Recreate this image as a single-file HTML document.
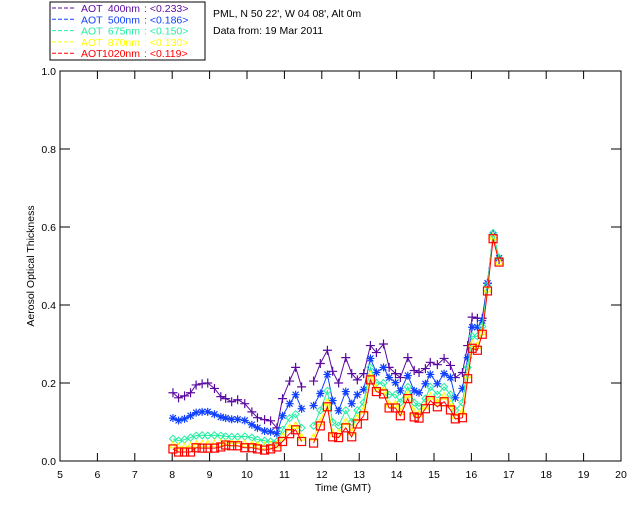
<!DOCTYPE html>
<html><head><meta charset="utf-8"><style>
body{margin:0;background:#fff;width:640px;height:512px;overflow:hidden}
svg text{font-family:"Liberation Sans","DejaVu Sans",sans-serif;font-size:10.5px}
</style></head><body>
<svg id="chart" width="640" height="512" xmlns="http://www.w3.org/2000/svg">
<rect x="0" y="0" width="640" height="512" fill="#fff"/>
<g id="plot"></g>
<rect x="50" y="2" width="155" height="58" fill="none" stroke="#000"/>
<g id="legend"></g>
<text x="213" y="17">PML, N 50 22', W 04 08', Alt 0m</text>
<text x="213" y="34">Data from: 19 Mar 2011</text>
<text x="343" y="491" text-anchor="middle">Time (GMT)</text>
<text transform="translate(34,266) rotate(-90)" text-anchor="middle" font-size="10">Aerosol Optical Thickness</text>
</svg>
<script>
const times=[8.02,8.17,8.33,8.49,8.64,8.8,8.95,9.13,9.3,9.43,9.59,9.75,9.94,10.13,10.28,10.47,10.63,10.8,10.95,11.14,11.3,11.46,
11.78,11.96,12.15,12.29,12.45,12.64,12.8,12.95,13.12,13.3,13.46,13.65,13.8,13.97,14.1,14.3,14.47,14.6,14.77,14.9,15.09,15.27,15.44,15.57,15.76,15.9,16.02,16.16,16.29,16.43,16.58,16.74];
const aot400=[0.175,0.162,0.167,0.175,0.195,0.198,0.2,0.186,0.165,0.16,0.152,0.157,0.147,0.126,0.111,0.106,0.103,0.085,0.16,0.205,0.24,0.19,
0.205,0.25,0.284,0.23,0.2,0.265,0.224,0.208,0.224,0.296,0.278,0.3,0.24,0.224,0.214,0.265,0.232,0.227,0.237,0.253,0.247,0.263,0.245,0.214,0.227,0.296,0.369,0.366,0.366,0.456,0.58,0.515];
const aot500=[0.11,0.104,0.108,0.116,0.124,0.126,0.126,0.12,0.113,0.11,0.107,0.107,0.104,0.093,0.085,0.077,0.075,0.07,0.116,0.147,0.17,0.134,
0.142,0.173,0.222,0.155,0.129,0.178,0.147,0.17,0.183,0.263,0.227,0.24,0.214,0.201,0.18,0.219,0.18,0.175,0.198,0.222,0.198,0.224,0.214,0.162,0.186,0.265,0.343,0.343,0.36,0.456,0.58,0.52];
const aot675=[0.057,0.052,0.055,0.06,0.065,0.066,0.065,0.066,0.065,0.063,0.062,0.062,0.063,0.06,0.055,0.052,0.05,0.05,0.08,0.11,0.12,0.085,
0.09,0.13,0.18,0.1,0.09,0.13,0.1,0.13,0.15,0.24,0.2,0.2,0.17,0.17,0.15,0.19,0.15,0.14,0.16,0.19,0.17,0.19,0.17,0.13,0.15,0.24,0.32,0.32,0.345,0.45,0.585,0.52];
const aot870=[0.04,0.035,0.035,0.038,0.042,0.043,0.043,0.044,0.045,0.046,0.045,0.045,0.043,0.042,0.04,0.038,0.04,0.04,0.06,0.085,0.09,0.06,
0.06,0.1,0.15,0.07,0.07,0.1,0.075,0.11,0.13,0.22,0.185,0.18,0.145,0.145,0.125,0.17,0.125,0.12,0.14,0.165,0.15,0.165,0.145,0.115,0.125,0.22,0.3,0.295,0.33,0.44,0.575,0.51];
const aot1020=[0.031,0.023,0.023,0.023,0.034,0.033,0.033,0.033,0.036,0.041,0.039,0.039,0.034,0.034,0.031,0.028,0.031,0.036,0.05,0.07,0.08,0.05,
0.046,0.09,0.139,0.062,0.06,0.085,0.062,0.095,0.116,0.208,0.178,0.172,0.136,0.136,0.116,0.16,0.113,0.11,0.134,0.155,0.139,0.152,0.131,0.108,0.111,0.211,0.289,0.284,0.325,0.436,0.57,0.51];
const xTicks=[5,6,7,8,9,10,11,12,13,14,15,16,17,18,19,20];
const yTicks=["0.0","0.2","0.4","0.6","0.8","1.0"];
const legendNames=["AOT  400nm","AOT  500nm","AOT  675nm","AOT  870nm","AOT 1020nm"];
const legendMeans=["<0.233>","<0.186>","<0.150>","<0.130>","<0.119>"];

const NS="http://www.w3.org/2000/svg";
const X0=60,X1=621,Y0=461,Y1=71;
const xs=t=>X0+(t-5)/15*(X1-X0);
const ys=v=>Y0-v*(Y0-Y1);
const plot=document.getElementById('plot');
function mk(tag,attrs,parent){const e=document.createElementNS(NS,tag);for(const k in attrs)e.setAttribute(k,attrs[k]);(parent||plot).appendChild(e);return e;}
const frame=mk('rect',{x:X0,y:Y1,width:X1-X0,height:Y0-Y1,fill:'none',stroke:'#000'});


xTicks.forEach(t=>{const x=xs(t);
 const l=mk('line',{x1:x,y1:Y0,x2:x,y2:Y0-8,stroke:'#000'});
 
 
 const l2=mk('line',{x1:x,y1:Y1,x2:x,y2:Y1+8,stroke:'#000'});
 
 
 const tx=mk('text',{x:x,y:Y0+17,'text-anchor':'middle'});tx.textContent=t;
 
 
});
yTicks.forEach(s=>{const y=ys(parseFloat(s));
 const l=mk('line',{x1:X0,y1:y,x2:X0+10,y2:y,stroke:'#000'});
 
 
 const l2=mk('line',{x1:X1,y1:y,x2:X1-10,y2:y,stroke:'#000'});
 
 
 const tx=mk('text',{x:X0-4,y:y+4,'text-anchor':'end'});tx.textContent=s;
 
 
});
const series=[{d:aot400,c:'#5a0aa0',m:'plus',n:'series-400nm'},{d:aot500,c:'#1040ff',m:'star',n:'series-500nm'},{d:aot675,c:'#20f0a0',m:'diamond',n:'series-675nm'},{d:aot870,c:'#ffff00',m:'tri',n:'series-870nm'},{d:aot1020,c:'#ff0000',m:'square',n:'series-1020nm'}];
function marker(g,m,x,y,c){let e;
 if(m==='plus')e=mk('path',{d:`M${x-4.5} ${y}H${x+4.5}M${x} ${y-4.5}V${y+4.5}`,stroke:c,fill:'none','stroke-width':1.2},g);
 else if(m==='star')e=mk('path',{d:`M${x-4} ${y}H${x+4}M${x} ${y-4}V${y+4}M${x-3} ${y-3}L${x+3} ${y+3}M${x-3} ${y+3}L${x+3} ${y-3}`,stroke:c,fill:'none','stroke-width':1.2},g);
 else if(m==='diamond')e=mk('path',{d:`M${x} ${y-3.5}L${x+3.5} ${y}L${x} ${y+3.5}L${x-3.5} ${y}Z`,stroke:c,fill:'none'},g);
 else if(m==='tri')e=mk('path',{d:`M${x} ${y-4}L${x+3.5} ${y+2.5}L${x-3.5} ${y+2.5}Z`,stroke:c,fill:'none'},g);
 else e=mk('rect',{x:x-4,y:y-4,width:8,height:8,stroke:c,fill:'none','stroke-width':1.2},g);
 
 
}
series.forEach(s=>{
 const g=mk('g',{});
 
 
 let d='';
 times.forEach((t,i)=>{const gap=i===0||t-times[i-1]>0.25;d+=(gap?'M':'L')+xs(t).toFixed(1)+' '+ys(s.d[i]).toFixed(1);});
 const p=mk('path',{d:d,stroke:s.c,fill:'none','stroke-width':1},g);
 
 
 times.forEach((t,i)=>marker(g,s.m,xs(t),ys(s.d[i]),s.c));
});
const leg=document.getElementById('legend');
legendNames.forEach((lab,i)=>{const y=11+i*11.3;const c=series[i].c;
 const l=mk('line',{x1:52,y1:y-3,x2:74,y2:y-3,stroke:c,'stroke-dasharray':'4,2'},leg);
 
 
 const t=mk('text',{y:y+1,fill:c,'font-size':'10'},leg);
 
 
 const a=mk('tspan',{x:81},t);a.textContent='AOT';
 const b=mk('tspan',{x:140,'text-anchor':'end'},t);b.textContent=lab.replace('AOT','').trim();
 const c2=mk('tspan',{x:144},t);c2.textContent=': '+legendMeans[i];
});
</script>
</body></html>
